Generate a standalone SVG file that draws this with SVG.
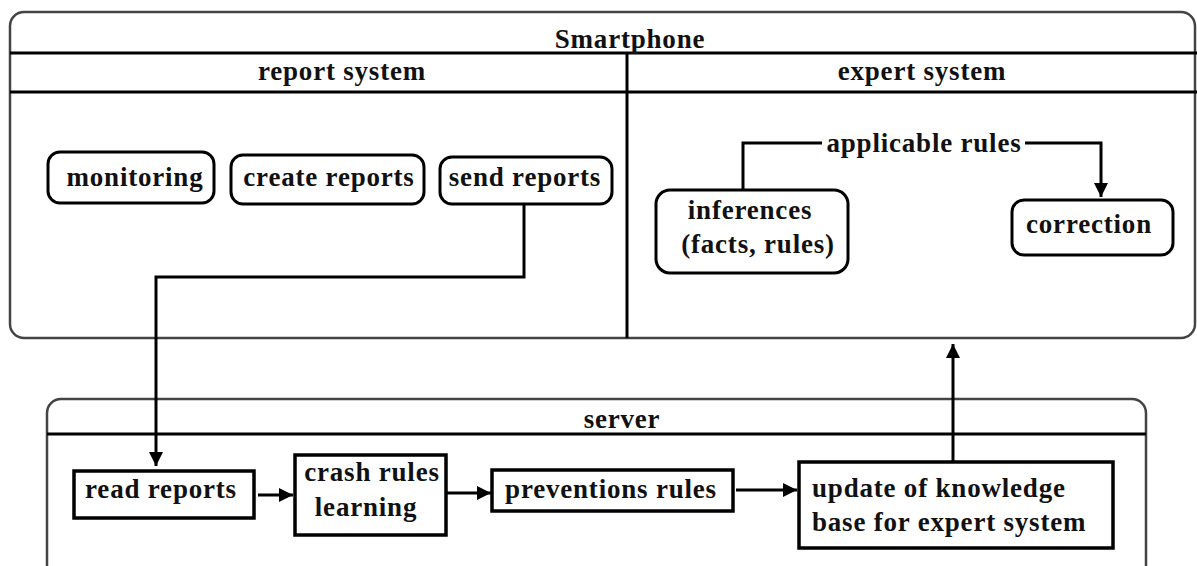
<svg xmlns="http://www.w3.org/2000/svg" width="1197" height="566" viewBox="0 0 1197 566">
<defs>
<marker id="arr" markerUnits="userSpaceOnUse" markerWidth="16" markerHeight="16" viewBox="0 0 16 16" refX="15" refY="8" orient="auto">
<path d="M1,1 L15,8 L1,15 z" fill="#000"/>
</marker>
</defs>
<style>
text{font-family:"Liberation Serif","Times New Roman",serif;font-weight:bold;font-size:27px;letter-spacing:0.8px;fill:#111;}
.c{text-anchor:middle;}
.frame{fill:#fff;stroke:#444;stroke-width:2.5;}
.div{stroke:#000;stroke-width:3;fill:none;}
.rn{fill:#fff;stroke:#000;stroke-width:3;}
.sn{fill:#fff;stroke:#000;stroke-width:3.5;}
.con{fill:none;stroke:#000;stroke-width:3;}
</style>
<rect width="1197" height="566" fill="#fff"/>
<g id="smartphone">
<rect class="frame" x="10" y="12" width="1185" height="326" rx="14"/>
<line class="div" x1="10" y1="53" x2="1197" y2="53"/>
<line class="div" x1="10" y1="92" x2="1197" y2="92"/>
<line class="div" x1="627" y1="53" x2="627" y2="338"/>
<text class="c" x="630" y="48">Smartphone</text>
<text class="c" x="342" y="80">report system</text>
<text class="c" x="922" y="80">expert system</text>
</g>
<g id="server">
<rect class="frame" x="47" y="399" width="1099" height="190" rx="14"/>
<line class="div" x1="47" y1="434" x2="1146" y2="434"/>
<text class="c" x="622" y="428">server</text>
</g>
<g id="monitoring">
<rect class="rn" x="48" y="152" width="166" height="51" rx="12"/>
<text class="c" x="135" y="186">monitoring</text>
</g>
<g id="create-reports">
<rect class="rn" x="231" y="155" width="193" height="49" rx="12"/>
<text class="c" x="329" y="186">create reports</text>
</g>
<g id="send-reports">
<rect class="rn" x="440" y="157" width="172" height="47" rx="12"/>
<text class="c" x="525" y="186">send reports</text>
</g>
<g id="inferences">
<rect class="rn" x="656" y="190" width="192" height="83" rx="14"/>
<text class="c" x="750" y="219">inferences</text>
<text class="c" x="758" y="253">(facts, rules)</text>
</g>
<g id="correction">
<rect class="rn" x="1012" y="200" width="161" height="55" rx="12"/>
<text class="c" x="1089" y="233">correction</text>
</g>
<g id="read-reports">
<rect class="sn" x="74" y="471" width="180" height="47"/>
<text class="c" x="161" y="498">read reports</text>
</g>
<g id="crash-rules">
<rect class="sn" x="295" y="455" width="151" height="80"/>
<text class="c" x="372" y="481">crash rules</text>
<text class="c" x="366" y="516">learning</text>
</g>
<g id="preventions-rules">
<rect class="sn" x="492" y="470" width="241" height="41"/>
<text class="c" x="611" y="498">preventions rules</text>
</g>
<g id="update-kb">
<rect class="sn" x="799" y="462" width="314" height="86"/>
<text x="812" y="497">update of knowledge</text>
<text x="812" y="531">base for expert system</text>
</g>
<g id="connectors">
<path class="con" d="M524,204 V277 H156 V466" marker-end="url(#arr)"/>
<path class="con" d="M743,190 V143 H822"/>
<text class="c" x="924" y="152">applicable rules</text>
<path class="con" d="M1025,143 H1101 V197" marker-end="url(#arr)"/>
<path class="con" d="M258,495 H293" marker-end="url(#arr)"/>
<path class="con" d="M447,493 H491" marker-end="url(#arr)"/>
<path class="con" d="M736,490 H797" marker-end="url(#arr)"/>
<path class="con" d="M953,462 V344" marker-end="url(#arr)"/>
</g>
</svg>
